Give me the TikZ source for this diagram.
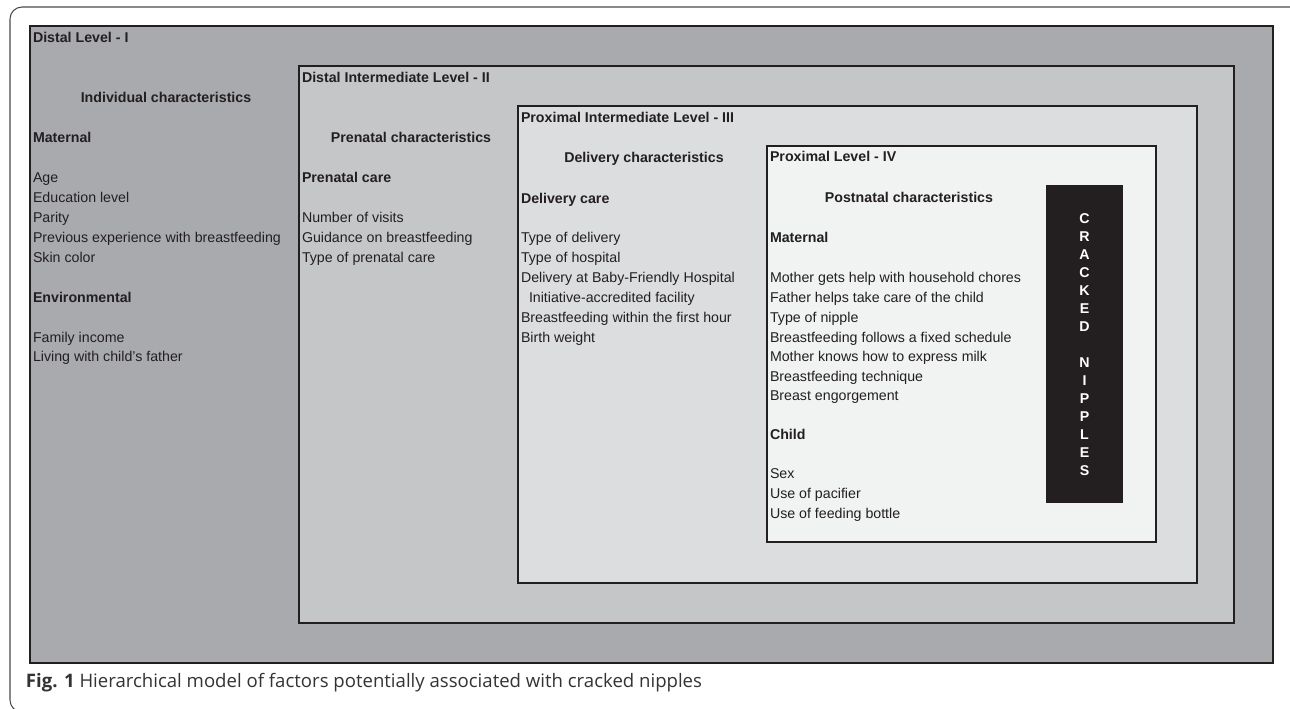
\documentclass[tikz,border=0pt]{standalone}
\usepackage{fontspec}
\setmainfont{Liberation Sans}
\newfontfamily\capfont{Open Sans}
\usepackage{graphicx}
\definecolor{ink}{HTML}{231F20}
\definecolor{lvlA}{HTML}{A9AAAD}
\definecolor{lvlB}{HTML}{C5C6C8}
\definecolor{lvlC}{HTML}{DCDDDF}
\definecolor{lvlD}{HTML}{F1F2F2}
\definecolor{framecol}{HTML}{4A4A4A}
\definecolor{capink}{HTML}{333333}
\newcommand{\bodyfont}{\fontsize{10.65pt}{12pt}\selectfont}
\begin{document}
\begin{tikzpicture}[x=0.75pt,y=-0.75pt,
  every node/.style={inner sep=0pt, outer sep=0pt, text=ink, font=\bodyfont},
  item/.style={anchor=base west},
  hd/.style={anchor=base west, font=\bodyfont\bfseries},
  ctrhd/.style={anchor=base, font=\bodyfont\bfseries},
  letter/.style={anchor=base, text=white, font=\bodyfont\bfseries},
  levelbox/.style={draw=ink, line width=2pt, line join=miter},
]
\useasboundingbox (0,0) rectangle (1290,708);
\clip (0,0) rectangle (1290,708);
\fill[white] (0,0) rectangle (1290,708);
\draw[framecol, line width=0.8pt, rounded corners=9pt] (10,7) rectangle (1302,712);

% level boxes
\filldraw[levelbox, fill=lvlA] (30,26) rectangle (1273,663);
\filldraw[levelbox, fill=lvlB] (299,66) rectangle (1234,623);
\filldraw[levelbox, fill=lvlC] (518,106) rectangle (1197,583);
\filldraw[levelbox, fill=lvlD] (767,146) rectangle (1156,542);
\fill[ink] (1046,185) rectangle (1123,503);

% Level I
\node[hd] (t1) at (33,42) {Distal Level - I};
\node[ctrhd] (h1) at (166,102) {Individual characteristics};
\node[hd] (m1) at (33,142) {Maternal};
\node[item] (a1) at (33,182) {Age};
\node[item] (a2) at (33,202) {Education level};
\node[item] (a3) at (33,222) {Parity};
\node[item] (a4) at (33,242) {Previous experience with breastfeeding};
\node[item] (a5) at (33,262) {Skin color};
\node[hd] (e1) at (33,302) {Environmental};
\node[item] (a6) at (33,342) {Family income};
\node[item] (a7) at (33,361) {Living with child's father};

% Level II
\node[hd] (t2) at (302,82) {Distal Intermediate Level - II};
\node[ctrhd] (h2) at (411,142) {Prenatal characteristics};
\node[hd] (p2) at (302,182) {Prenatal care};
\node[item] (b1) at (302,222) {Number of visits};
\node[item] (b2) at (302,242) {Guidance on breastfeeding};
\node[item] (b3) at (302,262) {Type of prenatal care};

% Level III
\node[hd] (t3) at (521,122) {Proximal Intermediate Level - III};
\node[ctrhd] (h3) at (644,162) {Delivery characteristics};
\node[hd] (d3) at (521,203) {Delivery care};
\node[item] (c1) at (521,242) {Type of delivery};
\node[item] (c2) at (521,262) {Type of hospital};
\node[item] (c3) at (521,282) {Delivery at Baby-Friendly Hospital};
\node[item] (c4) at (529,302) {Initiative-accredited facility};
\node[item] (c5) at (521,322) {Breastfeeding within the first hour};
\node[item] (c6) at (521,342) {Birth weight};

% Level IV
\node[hd] (t4) at (770,161) {Proximal Level - IV};
\node[ctrhd] (h4) at (909,202) {Postnatal characteristics};
\node[hd] (m4) at (770,242) {Maternal};
\node[item] (f1) at (770,282) {Mother gets help with household chores};
\node[item] (f2) at (770,302) {Father helps take care of the child};
\node[item] (f3) at (770,322) {Type of nipple};
\node[item] (f4) at (770,342) {Breastfeeding follows a fixed schedule};
\node[item] (f5) at (770,361) {Mother knows how to express milk};
\node[item] (f6) at (770,381) {Breastfeeding technique};
\node[item] (f7) at (770,400) {Breast engorgement};
\node[hd] (ch4) at (770,439) {Child};
\node[item] (g1) at (770,478) {Sex};
\node[item] (g2) at (770,498) {Use of pacifier};
\node[item] (g3) at (770,518) {Use of feeding bottle};

% vertical label
\foreach \ch/\k in {C/0,R/1,A/2,C/3,K/4,E/5,D/6,N/8,I/9,P/10,P/11,L/12,E/13,S/14}
  \node[letter] (L\k) at (1084.5,{223+18*\k}) {\ch};

% caption
\node[anchor=base west, text=capink] (caption) at (26,687)
  {\resizebox{507pt}{!}{\capfont\fontsize{13pt}{15pt}\selectfont\textbf{Fig. 1} Hierarchical model of factors potentially associated with cracked nipples}};
\end{tikzpicture}
\end{document}
